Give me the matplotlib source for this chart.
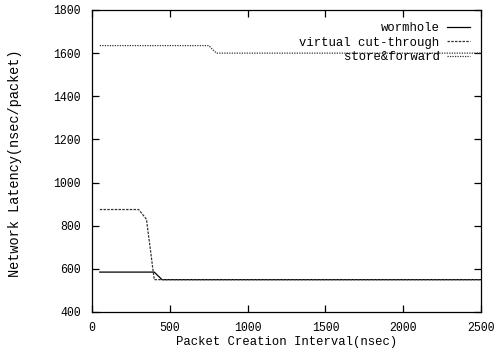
import matplotlib
matplotlib.use("Agg")
import matplotlib.pyplot as plt

wormhole_x = [50, 400, 450, 2500]
wormhole_y = [585, 585, 550, 550]
vct_x = [50, 300, 350, 400, 2500]
vct_y = [875, 875, 830, 550, 550]
saf_x = [50, 750, 800, 2500]
saf_y = [1635, 1635, 1600, 1600]
xticks = [0, 500, 1000, 1500, 2000, 2500]
yticks = [400, 600, 800, 1000, 1200, 1400, 1600, 1800]

plt.rcParams['font.family'] = ['Liberation Mono', 'DejaVu Sans Mono']
fig = plt.figure(figsize=(5.02, 3.52), dpi=100)
L, R, T, B = 92, 481, 10, 312
ax = fig.add_axes([L/502, 1-B/352, (R-L)/502, (B-T)/352])

ax.plot(wormhole_x, wormhole_y, color='black', lw=0.9, label='wormhole')
ax.plot(vct_x, vct_y, color='#333333', lw=0.9, linestyle=(0, (2, 1)), label='virtual cut-through')
ax.plot(saf_x, saf_y, color='#333333', lw=0.9, linestyle=(0, (1, 1)), label='store&forward')

ax.set_xlim(0, 2500)
ax.set_ylim(400, 1800)
ax.set_xticks(xticks)
ax.set_yticks(yticks)
ax.tick_params(direction='in', length=5, width=0.9, top=True, right=True, labelsize=8.3)
ax.tick_params(axis='x', pad=7)
ax.tick_params(axis='y', pad=8)
for s in ax.spines.values():
    s.set_linewidth(0.9)
ax.set_xlabel('Packet Creation Interval(nsec)', fontsize=8.8)
ax.set_ylabel('Network Latency(nsec/packet)', fontsize=9.8)
ax.xaxis.set_label_coords(0.5, -(336-B)/(B-T))
ax.yaxis.set_label_coords(-(L-22)/(R-L), (B-163)/(B-T))

leg = ax.legend(loc='upper right', frameon=False, markerfirst=False, fontsize=8.8,
                handlelength=1.9, handletextpad=0.6, labelspacing=0.22,
                borderaxespad=0, borderpad=0,
                bbox_to_anchor=((470-L)/(R-L), (B-22)/(B-T)))
for t in leg.get_texts():
    t.set_ha('right')

fig.savefig('out.png', dpi=100)
